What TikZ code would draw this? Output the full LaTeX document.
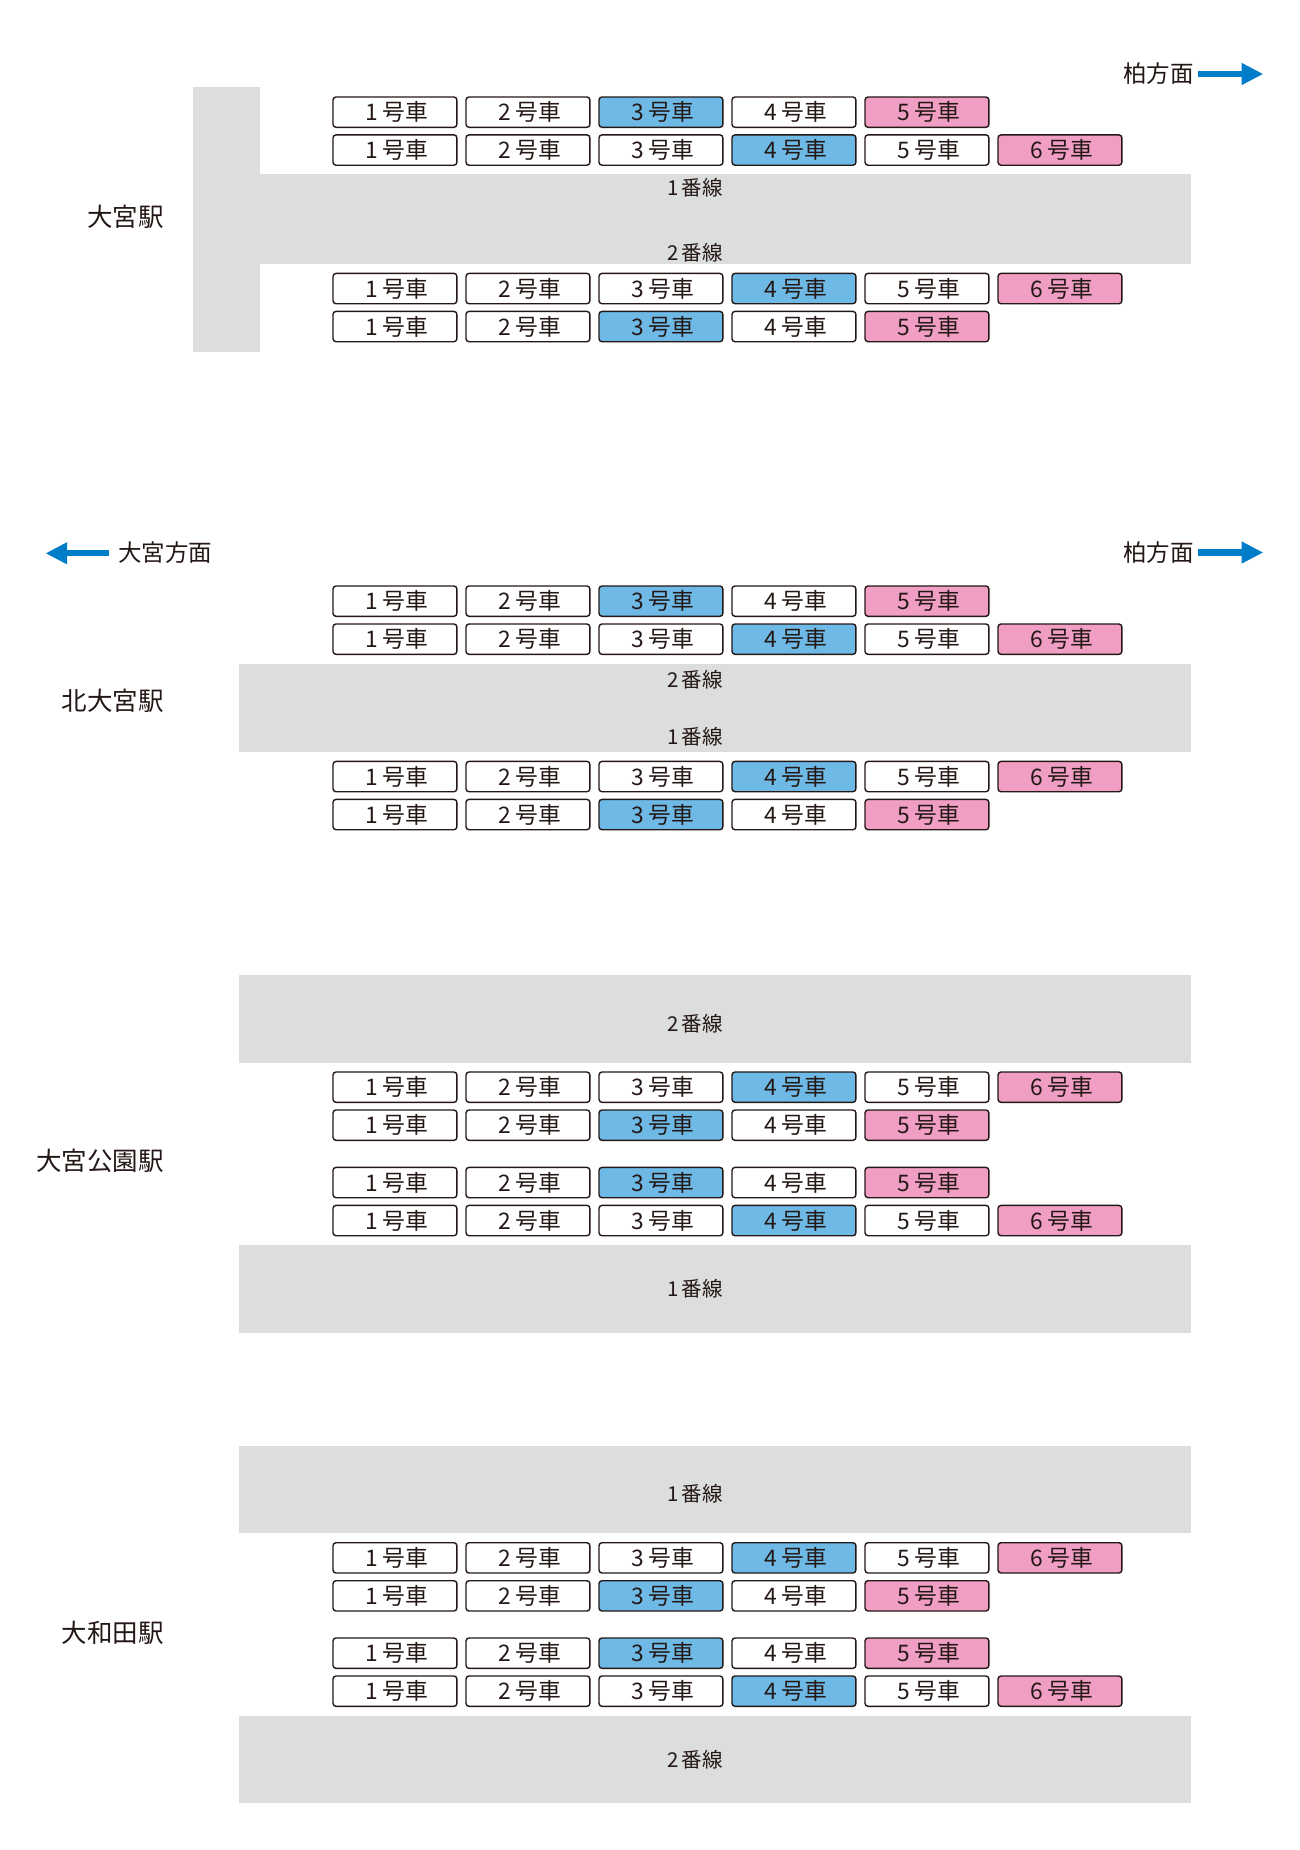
\documentclass[tikz,border=0pt]{standalone}
\usepackage{fontspec}
\newfontfamily\jp{Noto Sans CJK JP}
\usetikzlibrary{arrows.meta}
\definecolor{carblue}{RGB}{110,185,230}
\definecolor{carpink}{RGB}{240,158,196}
\definecolor{platgrey}{RGB}{220,221,221}
\definecolor{dirblue}{RGB}{0,125,200}
\definecolor{inkc}{RGB}{35,24,21}
\tikzset{
  car/.style={draw=inkc, line width=1.4pt, rounded corners=3pt,
    minimum width=123.9pt, minimum height=30.3pt, inner sep=0pt,
    text=inkc, font=\jp\fontsize{22.8}{22.8}\selectfont,
    text height=20.06pt, text depth=2.74pt},
  lane/.style={inner sep=0pt, text=inkc, font=\jp\fontsize{20.5}{20.5}\selectfont,
    text height=18.04pt, text depth=2.46pt},
  station/.style={inner sep=0pt, anchor=east, text=inkc,
    font=\jp\fontsize{25.5}{25.5}\selectfont, text height=22.44pt, text depth=3.06pt},
  dirtext/.style={inner sep=0pt, text=inkc, font=\jp\fontsize{23.5}{23.5}\selectfont,
    text height=20.68pt, text depth=2.82pt},
  dirarrow/.style={draw=dirblue, line width=6.3pt,
    -{Triangle[length=21.6pt,width=20.5pt]}},
  platform/.style={fill=platgrey}
}
\newcommand{\carrow}[5]{%
  \foreach \carn in {1,...,#3}{%
    \ifnum\carn=#4\relax\def\carfill{carblue}\else\ifnum\carn=#5\relax\def\carfill{carpink}\else\def\carfill{white}\fi\fi
    \node[car, fill=\carfill] (#1-\carn) at ({394.95+133*(\carn-1)}, {#2+15.85}) {\kern3pt\carn\kern4.5pt 号車};
  }%
}
\newcommand{\lanetxt}[1]{#1\kern3.5pt 番線}
\begin{document}
\begin{tikzpicture}[x=1pt,y=-1pt]
\useasboundingbox (0,0) rectangle (1300,1850);
\fill[white] (0,0) rectangle (1300,1850);

% ---------- 大宮駅 ----------
\fill[platform] (193.3,86.5) rectangle (260,351.7);
\fill[platform] (259.9,174.3) rectangle (1190.7,264);
\node[lane] (A-l1) at (695,188) {\lanetxt{1}};
\node[lane] (A-l2) at (695,252.5) {\lanetxt{2}};
\node[station] (st-omiya) at (163.8,216.7) {大宮駅};
\node[dirtext] (A-dir) at (1158.3,74) {柏方面};
\coordinate (A-as) at (1198,74);
\coordinate (A-ae) at (1263.3,74);
\draw[dirarrow] (A-as) -- (A-ae);
\carrow{A1}{96.3}{5}{3}{5}
\carrow{A2}{134.2}{6}{4}{6}
\carrow{A3}{272.7}{6}{4}{6}
\carrow{A4}{310.7}{5}{3}{5}

% ---------- 北大宮駅 ----------
\node[dirtext] (B-dirl) at (165,553) {大宮方面};
\coordinate (B-ls) at (109.3,553.3);
\coordinate (B-le) at (45.5,553.3);
\draw[dirarrow] (B-ls) -- (B-le);
\node[dirtext] (B-dirr) at (1158.3,552.5) {柏方面};
\coordinate (B-rs) at (1198,552.5);
\coordinate (B-re) at (1263.3,552.5);
\draw[dirarrow] (B-rs) -- (B-re);
\fill[platform] (238.6,664) rectangle (1190.7,751.7);
\node[lane] (B-l2) at (695,680) {\lanetxt{2}};
\node[lane] (B-l1) at (695,736.3) {\lanetxt{1}};
\node[station] (st-kitaomiya) at (163.8,701) {北大宮駅};
\carrow{B1}{585.3}{5}{3}{5}
\carrow{B2}{623.3}{6}{4}{6}
\carrow{B3}{760.7}{6}{4}{6}
\carrow{B4}{798.7}{5}{3}{5}

% ---------- 大宮公園駅 ----------
\fill[platform] (238.6,975) rectangle (1190.7,1062.7);
\fill[platform] (238.6,1245.3) rectangle (1190.7,1332.7);
\node[lane] (C-l2) at (695,1024) {\lanetxt{2}};
\node[lane] (C-l1) at (695,1289) {\lanetxt{1}};
\node[station] (st-omiyakoen) at (163.8,1161) {大宮公園駅};
\carrow{C1}{1071.3}{6}{4}{6}
\carrow{C2}{1109.3}{5}{3}{5}
\carrow{C3}{1166.7}{5}{3}{5}
\carrow{C4}{1204.7}{6}{4}{6}

% ---------- 大和田駅 ----------
\fill[platform] (238.6,1445.7) rectangle (1190.7,1533.3);
\fill[platform] (238.6,1716) rectangle (1190.7,1803.3);
\node[lane] (D-l1) at (695,1494) {\lanetxt{1}};
\node[lane] (D-l2) at (695,1759.3) {\lanetxt{2}};
\node[station] (st-owada) at (163.8,1632.3) {大和田駅};
\carrow{D1}{1542}{6}{4}{6}
\carrow{D2}{1580}{5}{3}{5}
\carrow{D3}{1637.3}{5}{3}{5}
\carrow{D4}{1675.3}{6}{4}{6}
\end{tikzpicture}
\end{document}
